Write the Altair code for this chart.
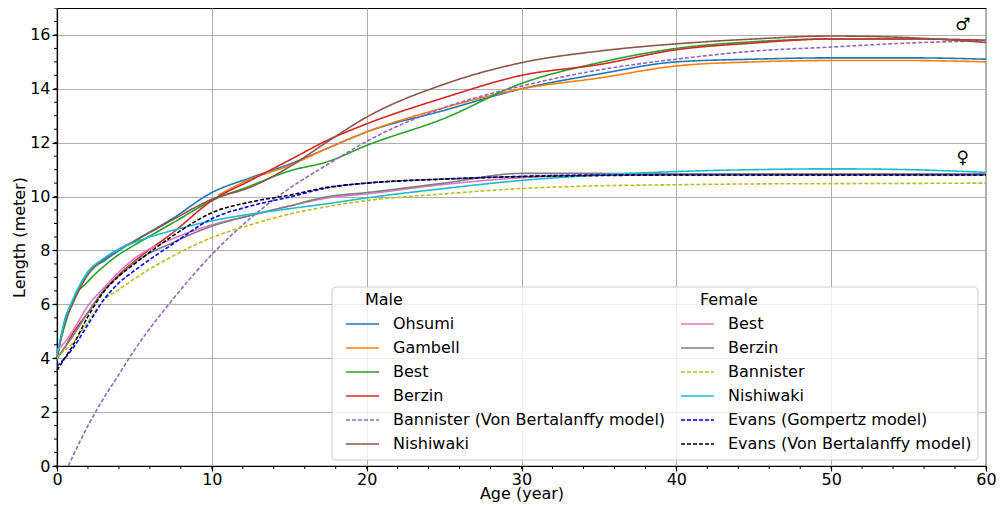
import altair as alt
import pandas as pd

# ---------------- data ----------------
ages = [0, 0.5, 1, 2, 3, 4, 5, 7.5, 10, 12.5, 15, 17.5, 20, 25, 30, 35, 40, 45, 50, 55, 60]

# Male curves
ohsumi_m = [3.9, 5.4, 6.1, 7.2, 7.6, 8.0, 8.35, 9.2, 10.15, 10.7, 11.2, 11.8, 12.4, 13.2, 14.0, 14.55, 15.0, 15.1, 15.15, 15.15, 15.1]
gambell_ages = [10.4, 12.5, 15, 17.5, 20, 25, 30, 35, 40, 45, 50, 55, 60]
gambell_m = [10.05, 10.65, 11.15, 11.8, 12.4, 13.3, 14.0, 14.4, 14.85, 15.0, 15.05, 15.05, 15.0]
best_m = [4.2, 5.2, 6.1, 6.85, 7.4, 7.85, 8.2, 9.03, 9.85, 10.4, 10.95, 11.3, 11.9, 12.9, 14.2, 14.97, 15.5, 15.75, 15.85, 15.85, 15.8]
berzin_m = [4.0, 4.4, 4.9, 5.7, 6.5, 7.1, 7.6, 8.67, 9.85, 10.6, 11.35, 12.1, 12.7, 13.67, 14.5, 14.9, 15.45, 15.7, 15.85, 15.85, 15.8]
bannister_m_ages = [0.73, 2, 3, 4, 5, 7.5, 10, 12.5, 15, 17.5, 20, 25, 30, 35, 40, 45, 50, 55, 60]
bannister_m = [0.0, 1.5, 2.5, 3.4, 4.3, 6.2, 7.85, 9.2, 10.3, 11.2, 12.05, 13.3, 14.1, 14.7, 15.1, 15.4, 15.55, 15.7, 15.78]
nishiwaki_m = [4.0, 5.3, 6.0, 7.1, 7.65, 8.05, 8.35, 9.15, 9.9, 10.35, 11.1, 12.05, 12.95, 14.17, 14.97, 15.4, 15.67, 15.85, 15.96, 15.9, 15.72]

# Female curves
best_f = [4.3, 4.6, 5.0, 5.95, 6.6, 7.2, 7.7, 8.44, 8.95, 9.3, 9.65, 9.95, 10.1, 10.45, 10.7, 10.8, 10.85, 10.85, 10.85, 10.85, 10.85]
berzin_f = [4.0, 4.4, 4.8, 5.7, 6.5, 7.05, 7.55, 8.3, 8.9, 9.3, 9.65, 10.0, 10.15, 10.5, 10.86, 10.86, 10.84, 10.84, 10.84, 10.84, 10.84]
bannister_f = [4.0, 4.3, 4.55, 5.35, 6.15, 6.55, 6.95, 7.8, 8.48, 8.95, 9.35, 9.63, 9.85, 10.1, 10.3, 10.4, 10.44, 10.47, 10.48, 10.49, 10.5]
nishiwaki_f = [4.1, 5.4, 6.15, 7.2, 7.7, 8.05, 8.3, 8.75, 9.1, 9.35, 9.55, 9.74, 9.95, 10.3, 10.6, 10.8, 10.93, 11.0, 11.03, 11.0, 10.9]
evans_gompertz_f = [3.7, 4.0, 4.35, 5.25, 6.15, 6.8, 7.25, 8.25, 9.18, 9.65, 9.98, 10.33, 10.5, 10.65, 10.75, 10.8, 10.8, 10.8, 10.8, 10.8, 10.8]
evans_vb_f = [3.55, 4.0, 4.45, 5.55, 6.45, 7.05, 7.5, 8.55, 9.4, 9.8, 10.05, 10.35, 10.5, 10.65, 10.74, 10.78, 10.8, 10.8, 10.8, 10.8, 10.8]

male_names = ["Ohsumi", "Gambell", "Best", "Berzin", "Bannister (Von Bertalanffy model)", "Nishiwaki"]
male_colors = ["#1f77b4", "#ff7f0e", "#2ca02c", "#d62728", "#9467bd", "#8c564b"]
male_dashed = [False, False, False, False, True, False]
male_ages = [ages, gambell_ages, ages, ages, bannister_m_ages, ages]
male_values = [ohsumi_m, gambell_m, best_m, berzin_m, bannister_m, nishiwaki_m]

female_names = ["Best", "Berzin", "Bannister", "Nishiwaki", "Evans (Gompertz model)", "Evans (Von Bertalanffy model)"]
female_colors = ["#e377c2", "#7f7f7f", "#bcbd22", "#17becf", "blue", "black"]
female_dashed = [False, False, True, False, True, True]
female_ages = [ages, ages, ages, ages, ages, ages]
female_values = [best_f, berzin_f, bannister_f, nishiwaki_f, evans_gompertz_f, evans_vb_f]

legend_titles = ["Male", "Female"]
sex_symbols = ["♂", "♀"]
sex_symbol_x = [58.5, 58.5]
sex_symbol_y = [16.37, 11.44]

x_major = list(range(0, 61, 10))
y_major = list(range(0, 17, 2))
x_minor = list(range(0, 61, 2))
y_minor = [v / 2 for v in range(0, 35)]

W, H = 929, 458
FONT = "DejaVu Sans"


def long_frame(field, names, ages_list, values_list):
    rows = []
    for name, a, v in zip(names, ages_list, values_list):
        for x, y in zip(a, v):
            rows.append({field: name, "age": x, "length": y})
    return pd.DataFrame(rows)


male_df = long_frame("Male", male_names, male_ages, male_values)
female_df = long_frame("Female", female_names, female_ages, female_values)

xscale = alt.Scale(domain=[0, 60], nice=False, zero=False)
yscale = alt.Scale(domain=[0, 17], nice=False, zero=False)
xaxis = alt.Axis(values=x_major, title="Age (year)", grid=True, format="d",
                 labelPadding=0, titleBaseline="alphabetic", titleY=32)
yaxis = alt.Axis(values=y_major, title="Length (meter)", grid=True, format="d",
                 labelPadding=2, titlePadding=2)


def make_legend(x0):
    return alt.Legend(
        title=None, orient="none", legendX=x0, legendY=308,
        symbolType="stroke", symbolSize=1089, labelFontSize=16,
        labelFont=FONT, labelColor="black", labelOffset=13,
        clipHeight=16, rowPadding=8, padding=0, symbolOpacity=1,
        labelLimit=400,
    )


def series_layer(df, field, names, colors, dashed, x0):
    leg = make_legend(x0)
    dashes = [[4, 2] if d else [1, 0] for d in dashed]
    widths = [1.2 if d else 1.6 for d in dashed]
    return alt.Chart(df).mark_line(interpolate="monotone").encode(
        x=alt.X("age:Q", scale=xscale, axis=xaxis),
        y=alt.Y("length:Q", scale=yscale, axis=yaxis),
        color=alt.Color(f"{field}:N", scale=alt.Scale(domain=names, range=colors), legend=leg),
        strokeDash=alt.StrokeDash(f"{field}:N", scale=alt.Scale(domain=names, range=dashes), legend=leg),
        strokeWidth=alt.StrokeWidth(f"{field}:N", scale=alt.Scale(domain=names, range=widths), legend=leg),
    )


male_layer = series_layer(male_df, "Male", male_names, male_colors, male_dashed, 288)
female_layer = series_layer(female_df, "Female", female_names, female_colors, female_dashed, 623)

# minor ticks (share the same scales and axes as the curves)
xminor_layer = alt.Chart(pd.DataFrame({"age": x_minor})).mark_rule(color="black", strokeWidth=1).encode(
    x=alt.X("age:Q", scale=xscale, axis=xaxis), y=alt.value(H), y2=alt.value(H + 3)
)
yminor_layer = alt.Chart(pd.DataFrame({"length": y_minor})).mark_rule(color="black", strokeWidth=1).encode(
    y=alt.Y("length:Q", scale=yscale, axis=yaxis), x=alt.value(-3), x2=alt.value(0)
)

# legend frame
frame_layer = alt.Chart(pd.DataFrame({"f": [0]})).mark_rect(
    fill="white", fillOpacity=0.8, stroke="#cccccc", strokeWidth=1, cornerRadius=4
).encode(x=alt.value(275), x2=alt.value(921), y=alt.value(279), y2=alt.value(452))

title_df = pd.DataFrame({"t": legend_titles})
male_title = alt.Chart(title_df.iloc[[0]]).mark_text(
    align="left", baseline="middle", fontSize=16, font=FONT, color="black"
).encode(text="t:N", x=alt.value(308), y=alt.value(292))
female_title = alt.Chart(title_df.iloc[[1]]).mark_text(
    align="left", baseline="middle", fontSize=16, font=FONT, color="black"
).encode(text="t:N", x=alt.value(643), y=alt.value(292))

sym_df = pd.DataFrame({"s": sex_symbols, "age": sex_symbol_x, "length": sex_symbol_y})
sym_layer = alt.Chart(sym_df).mark_text(
    align="center", baseline="middle", fontSize=17, font=FONT, color="black"
).encode(
    x=alt.X("age:Q", scale=xscale, axis=xaxis),
    y=alt.Y("length:Q", scale=yscale, axis=yaxis),
    text="s:N",
)

chart = alt.layer(
    male_layer, female_layer, xminor_layer, yminor_layer, frame_layer,
    male_title, female_title, sym_layer,
).resolve_scale(
    color="independent", strokeDash="independent", strokeWidth="independent"
).properties(
    width=W, height=H,
    autosize=alt.AutoSizeParams(type="none"),
    padding={"left": 49, "top": 0, "right": 11, "bottom": 36},
).configure(
    font=FONT
).configure_view(
    stroke="black", strokeWidth=1.2
).configure_axis(
    labelFont=FONT, titleFont=FONT, labelFontSize=16, titleFontSize=16,
    titleFontWeight="normal", labelColor="black", titleColor="black",
    domainColor="black", domainWidth=1.2, tickColor="black", tickSize=5,
    tickWidth=1.2, gridColor="#b0b0b0", gridWidth=1,
    labelFlush=False,
)

chart.save("out.html", embed_options={"renderer": "svg", "actions": False})
